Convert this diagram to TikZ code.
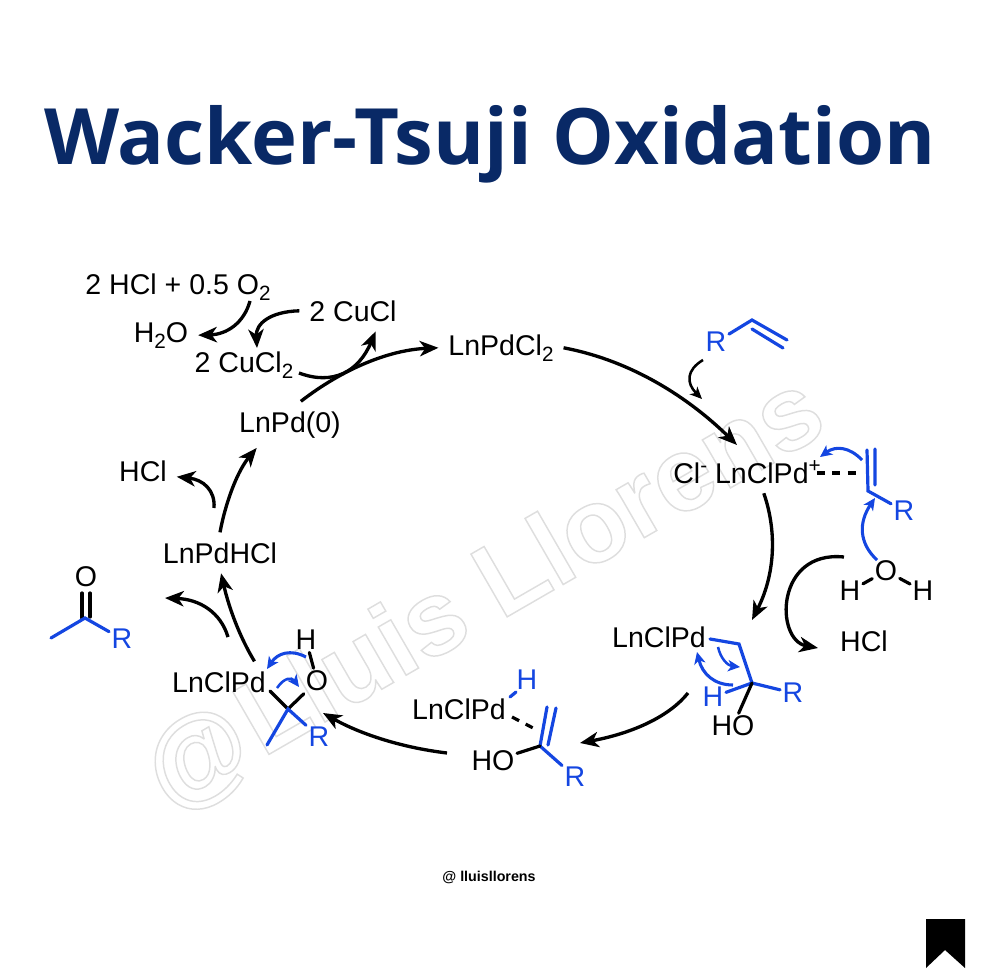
\documentclass[tikz,border=0pt]{standalone}
\usepackage{fontspec}
\setmainfont{Liberation Sans}
\newfontfamily\titlefont{Open Sans}
\usepackage{tikz}
\usetikzlibrary{arrows.meta,positioning,calc}
\definecolor{wblue}{RGB}{20,70,225}
\definecolor{wnavy}{RGB}{9,41,102}
\tikzstyle{species}=[inner sep=.75pt,outer sep=6.75pt,anchor=base,align=center]
\tikzstyle{atom}=[inner sep=0pt,outer sep=2pt]
\tikzstyle{rxn}=[line width=2.5pt,-{Stealth[length=14pt,width=11.5pt,inset=4pt]}]
\tikzstyle{smallrxn}=[line width=1.9pt,-{Stealth[length=9pt,width=8pt,inset=2.5pt]}]
\tikzstyle{mech}=[line width=2.3pt,wblue,-{Stealth[length=9pt,width=8.5pt,inset=2.5pt]}]
\tikzstyle{bond}=[line width=2.4pt,line cap=round]
\tikzstyle{dbond}=[bond,dash pattern=on 6pt off 5.5pt,line cap=butt]
\newcommand{\lo}[1]{\raisebox{-.22em}{\fontsize{15.5}{15.5}\selectfont #1}}
\newcommand{\hi}[1]{\raisebox{.38em}{\fontsize{15.5}{15.5}\selectfont #1}}
\newcommand{\outl}[1]{\special{pdf:code 1 Tr 1.1 w 0.87 G}#1\special{pdf:code 0 Tr}}
\newcommand{\bow}[4]{\draw [#1] (#2) .. controls ($(#2)!.667!(#3)$) and ($(#4)!.667!(#3)$) .. (#4);}
\begin{document}
\begin{tikzpicture}[x=.75pt,y=-.75pt,font=\fontsize{21.4}{25}\selectfont]
\useasboundingbox (0,0) rectangle (980,980);

\node [rotate=30,anchor=base,font=\bfseries\fontsize{79}{90}\selectfont] (stamp) at (500,621) {\outl{@\kern.05em Lluis Llorens}};
\node [text=wnavy,font=\titlefont\bfseries\fontsize{58.3}{70}\selectfont] (title) at (490,144) {Wacker-Tsuji Oxidation};
\node [font=\bfseries\fontsize{10.7}{12}\selectfont] (handle) at (489,877) {@ lluisllorens};
\fill (926,919) -- (965,919) -- (965,968) -- (945,950) -- (926,968) -- cycle;

\node [species] (oxid) at (178,294) {2 HCl + 0.5 O\lo{2}};
\node [species] (water) at (161,342) {H\lo{2}O};
\node [species] (cucl) at (353,321) {2 CuCl};
\node [species] (cucltwo) at (244,372) {2 CuCl\lo{2}};
\node [species] (pdzero) at (290,432) {LnPd(0)};
\node [species] (pdcl) at (501,355) {LnPdCl\lo{2}};
\node [species] (pdcat) at (747,483) {Cl\hi{-} LnClPd\hi{+}};
\node [species] (hclb) at (864,651) {HCl};
\node [species] (pdalk) at (659,647) {LnClPd};
\node [species] (pdhyd) at (459,719) {LnClPd};
\node [species] (pdoxo) at (219,692) {LnClPd};
\node [species] (pdhcl) at (220,563) {LnPdHCl};
\node [species] (hcla) at (143,481) {HCl};

\node [atom,text=wblue] (ra) at (716,342) {R};
\coordinate (ca) at (752,320);
\coordinate (cb) at (787,340);
\coordinate (cc) at (752,329);
\coordinate (cd) at (783,348);
\draw [bond,wblue] (ra) -- (ca) -- (cb) (cc) -- (cd);

\node [atom,text=wblue] (rb) at (904,511) {R};
\coordinate (ce) at (867,450);
\coordinate (cf) at (868,491);
\coordinate (cg) at (875,449);
\coordinate (ch) at (875,485);
\coordinate (ci) at (817,473);
\coordinate (cj) at (858,473);
\draw [bond,wblue] (ce) -- (cf) -- (rb) (cg) -- (ch);
\draw [dbond] (ci) -- (cj);

\node [atom] (oa) at (886,571) {O};
\node [atom] (ha) at (850,591) {H};
\node [atom] (hb) at (923,591) {H};
\draw [bond] (oa) -- (ha) (oa) -- (hb);

\coordinate (ck) at (710,639);
\coordinate (cl) at (739,644);
\coordinate (cm) at (752,683);
\node [atom,text=wblue] (rc) at (793,693) {R};
\node [atom,text=wblue] (hc) at (713,697) {H};
\node [atom] (hoa) at (733,726) {HO};
\draw [bond,wblue] (ck) -- (cl) -- (cm) -- (rc) (hc) -- (cm);
\draw [bond] (cm) -- (hoa);

\node [atom,text=wblue] (hd) at (527,680) {H};
\node [atom] (hob) at (493,761) {HO};
\node [atom,text=wblue] (rd) at (575,777) {R};
\coordinate (cn) at (547,707);
\coordinate (co) at (540,746);
\coordinate (cp) at (556,708);
\coordinate (cq) at (548,745);
\coordinate (cr) at (510,697);
\coordinate (cs) at (516,692);
\coordinate (ct) at (512,717);
\coordinate (cu) at (535,729);
\draw [bond,wblue] (cn) -- (co) -- (rd) (cp) -- (cq) (cr) -- (cs);
\draw [bond] (co) -- (hob);
\draw [dbond] (ct) -- (cu);

\node [atom] (he) at (306,640) {H};
\node [atom] (ob) at (317,681) {O};
\node [atom,text=wblue] (re) at (319,737) {R};
\coordinate (cv) at (288,709);
\coordinate (cw) at (270,691);
\coordinate (cx) at (267,745);
\draw [bond] (he) -- (ob) (ob) -- (cv) -- (cw);
\draw [bond,wblue] (cx) -- (cv) -- (re);

\node [atom] (oc) at (86,577) {O};
\node [atom,text=wblue] (rf) at (122,639) {R};
\coordinate (cy) at (85,618);
\coordinate (cz) at (51,638);
\coordinate (da) at (82,593);
\coordinate (db) at (82,618);
\coordinate (dc) at (90,593);
\coordinate (dd) at (90,617);
\draw [bond] (da) -- (db) (dc) -- (dd);
\draw [bond,wblue] (cz) -- (cy) -- (rf);

\coordinate (pdcatin) at (737,445);
\coordinate (pdalkin) at (752,620);
\coordinate (hoxyin) at (818,648);
\coordinate (oxoin) at (323,713);
\coordinate (hydin) at (580,743);
\coordinate (hydout) at (688,693);
\coordinate (enolout) at (447,753);
\coordinate (ketin) at (165,598);
\coordinate (ketout) at (228,637);
\coordinate (hclout) at (214,508);
\coordinate (oxidout) at (250,301);
\coordinate (cuin) at (257,348);
\coordinate (cuout) at (299,373);
\coordinate (rout) at (703,360);
\coordinate (rin) at (702,399);
\coordinate (wout) at (844,557);
\bow{rxn}{pdzero.65}{366,351}{pdcl.west}
\bow{rxn}{pdcl.east}{655,365}{pdcatin}
\bow{rxn}{pdcat.-52}{785,555}{pdalkin}
\bow{rxn}{hydout}{660,728}{hydin}
\bow{rxn}{enolout}{380,745}{oxoin}
\bow{rxn}{pdoxo.30}{233,626}{pdhcl.-87}
\bow{rxn}{ketout}{217,600}{ketin}
\bow{rxn}{pdhcl.90}{230,480}{pdzero.-145}
\bow{rxn}{hclout}{216,481}{hcla.-10}
\bow{rxn}{oxidout}{241,334}{water.east}
\bow{rxn}{cucl.west}{255,312}{cuin}
\bow{rxn}{cuout}{350,392}{cucl.-42}
\bow{smallrxn}{rout}{678,375}{rin}
\draw [rxn] (wout) .. controls (775,550) and (775,640) .. (hoxyin);

\coordinate (bluea) at (862,460);
\coordinate (blueb) at (820,457);
\coordinate (bluec) at (877,560);
\coordinate (blued) at (875,498);
\coordinate (bluee) at (718,647);
\coordinate (bluef) at (740,667);
\coordinate (blueg) at (733,685);
\coordinate (blueh) at (697,652);
\coordinate (bluei) at (306,657);
\coordinate (bluej) at (267,669);
\coordinate (bluek) at (277,688);
\coordinate (bluel) at (299,687);
\bow{mech}{bluea}{843,440}{blueb}
\bow{mech}{bluec}{850,535}{blued}
\bow{mech,line width=1.9pt}{bluee}{722,665}{bluef}
\bow{mech}{blueg}{705,685}{blueh}
\bow{mech}{bluei}{283,645}{bluej}
\bow{mech,line width=1.9pt}{bluek}{288,672}{bluel}
\end{tikzpicture}
\end{document}
